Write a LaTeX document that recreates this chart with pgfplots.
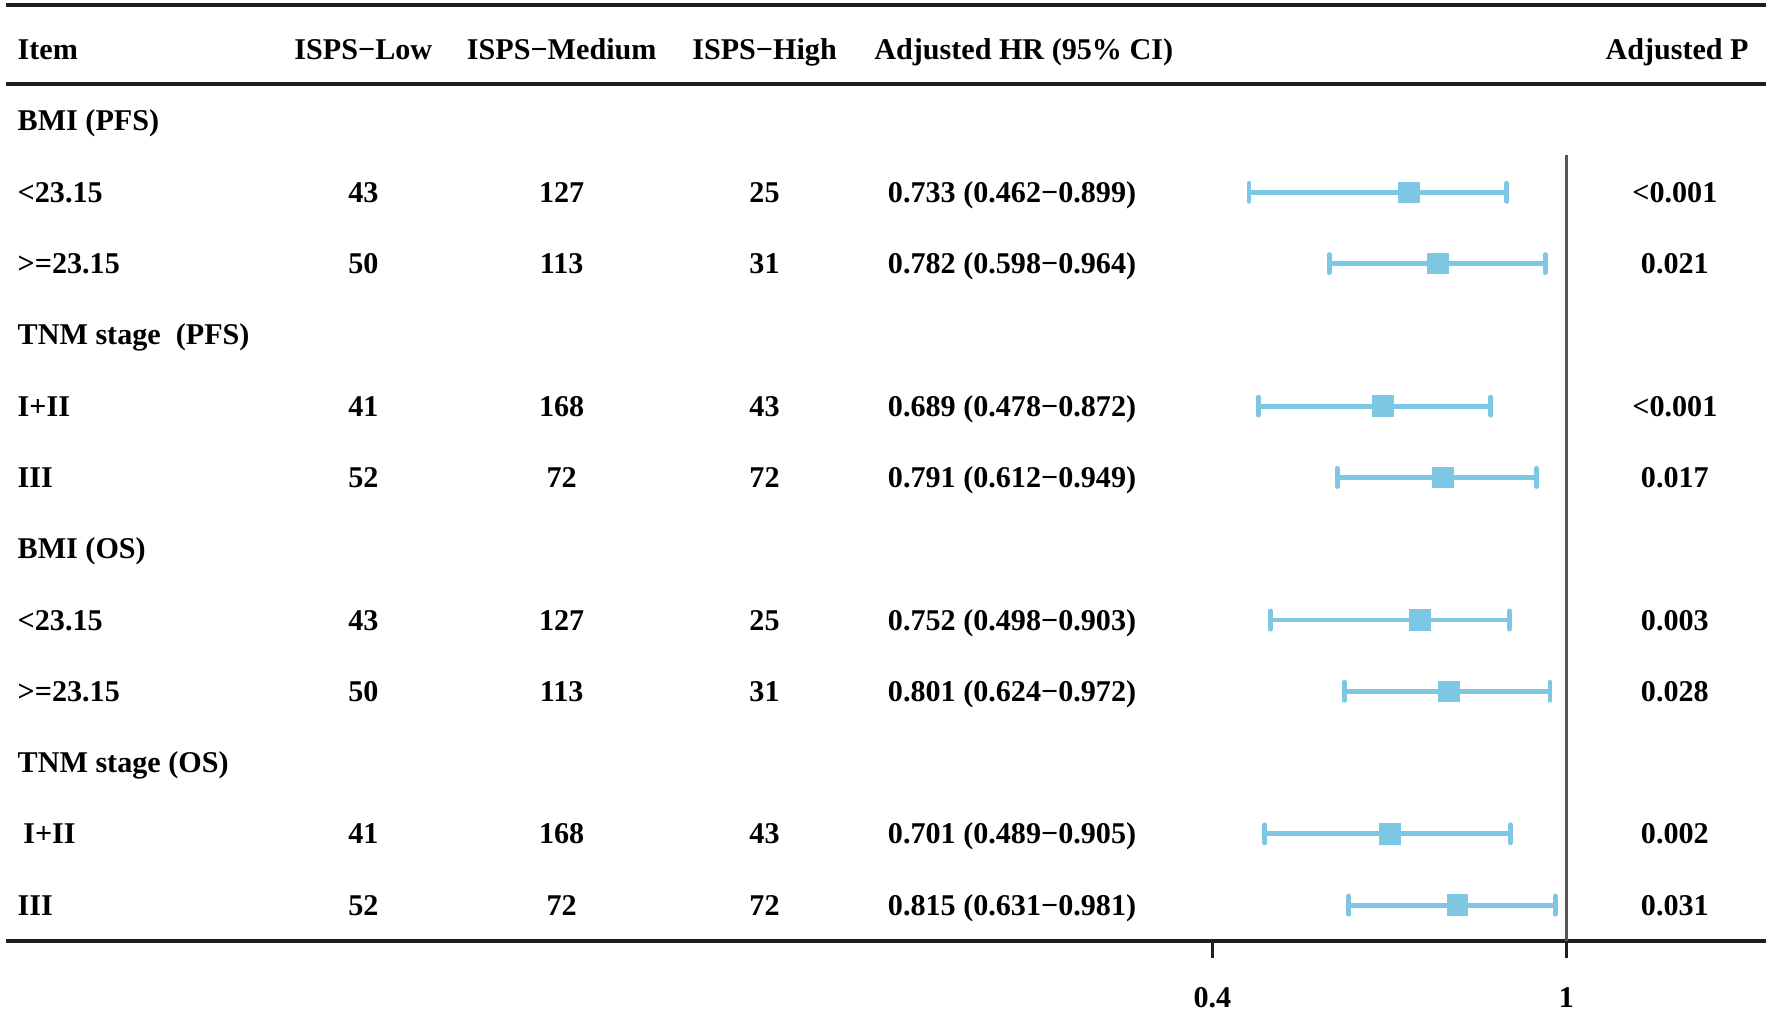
\documentclass[border=0pt]{standalone}
\usepackage{fontspec}
\setmainfont{Liberation Serif}
\usepackage{pgfplots}
\usepackage{pgfplotstable}
\pgfplotsset{compat=1.18}

\definecolor{barblue}{RGB}{125,198,228}
\definecolor{refgray}{RGB}{85,85,85}
\definecolor{rulecol}{RGB}{30,30,30}

% HR with 95% CI, k = row number from the header
\pgfplotstableread{
k  hr    lo    hi
2  0.733 0.462 0.899
3  0.782 0.598 0.964
5  0.689 0.478 0.872
6  0.791 0.612 0.949
8  0.752 0.498 0.903
9  0.801 0.624 0.972
11 0.701 0.489 0.905
12 0.815 0.631 0.981
}\hrtable

\newcommand{\tabfont}{\fontsize{8pt}{9.6pt}\selectfont\bfseries}
\newcommand{\trow}[7]{%
  \node[cellL] at (axis cs:-1.6257,-#1) {#2};
  \node[cellC] at (axis cs:-1.0387,-#1) {#3};
  \node[cellC] at (axis cs:-0.7026,-#1) {#4};
  \node[cellC] at (axis cs:-0.3589,-#1) {#5};
  \node[cellC] at (axis cs:0.0605,-#1) {#6};
  \node[cellC] at (axis cs:1.1836,-#1) {#7};
}

\begin{document}
\begin{tikzpicture}[
  cellL/.style={anchor=base west, inner sep=0pt, yshift=-2.65pt, font=\tabfont},
  cellC/.style={anchor=base, inner sep=0pt, yshift=-2.65pt, font=\tabfont},
  cellR/.style={anchor=base east, inner sep=0pt, yshift=-2.65pt, font=\tabfont},
]
\begin{axis}[
  scale only axis,
  width=467.4pt, height=248.4pt,
  xmin=-1.6448, xmax=1.3387,
  ymin=-12.503, ymax=0.623,
  clip=false,
  axis line style={draw=none},
  ytick=\empty,
  xtick={0.4,1},
  xticklabels={0.4,1},
  xtick pos=left,
  tick align=outside,
  major tick length=4.6pt,
  tick style={rulecol, line width=0.6pt},
  xticklabel style={font=\tabfont},
  xticklabel shift=4.2pt,
]

% rules of the table
\draw[rulecol, line width=1.05pt] (rel axis cs:0,1) -- (rel axis cs:1,1);
\draw[rulecol, line width=1.1pt] (axis cs:-1.6448,-0.4756) -- (axis cs:1.3387,-0.4756);
\draw[rulecol, line width=0.9pt] (rel axis cs:0,0) -- (rel axis cs:1,0);

% reference line at HR = 1
\draw[refgray, line width=0.9pt] (axis cs:1,-1.474) -- (axis cs:1,-12.503);

\addplot[only marks, mark=square*, mark size=2.65pt, color=barblue,
  error bars/.cd, x dir=both, x explicit, error mark=|,
  error bar style={line width=1.3pt, barblue},
  error mark options={line width=1.3pt, mark size=2.4pt, barblue, line cap=round}]
  table[x=hr, y expr=-\thisrow{k},
        x error plus expr=\thisrow{hi}-\thisrow{hr},
        x error minus expr=\thisrow{hr}-\thisrow{lo}] {\hrtable};

% header
\node[cellL] at (axis cs:-1.6257,0) {Item};
\node[cellC] at (axis cs:-1.0387,0) {ISPS−Low};
\node[cellC] at (axis cs:-0.7026,0) {ISPS−Medium};
\node[cellC] at (axis cs:-0.3589,0) {ISPS−High};
\node[cellL] at (axis cs:-0.1741,0) {Adjusted HR (95\% CI)};
\node[cellR] at (axis cs:1.31,0) {Adjusted P};

% group titles
\node[cellL] at (axis cs:-1.6257,-1) {BMI (PFS)};
\node[cellL] at (axis cs:-1.6257,-4) {TNM stage\ \ (PFS)};
\node[cellL] at (axis cs:-1.6257,-7) {BMI (OS)};
\node[cellL] at (axis cs:-1.6257,-10) {TNM stage (OS)};

\trow{2}{<23.15}{43}{127}{25}{0.733 (0.462−0.899)}{<0.001}
\trow{3}{>=23.15}{50}{113}{31}{0.782 (0.598−0.964)}{0.021}
\trow{5}{I+II}{41}{168}{43}{0.689 (0.478−0.872)}{<0.001}
\trow{6}{III}{52}{72}{72}{0.791 (0.612−0.949)}{0.017}
\trow{8}{<23.15}{43}{127}{25}{0.752 (0.498−0.903)}{0.003}
\trow{9}{>=23.15}{50}{113}{31}{0.801 (0.624−0.972)}{0.028}
\trow{11}{\hspace*{1.5pt}I+II}{41}{168}{43}{0.701 (0.489−0.905)}{0.002}
\trow{12}{III}{52}{72}{72}{0.815 (0.631−0.981)}{0.031}

% keep the margins of the original picture
\path (axis cs:-1.6544,0.6975) rectangle (axis cs:1.3483,-13.459);
\end{axis}
\end{tikzpicture}
\end{document}
